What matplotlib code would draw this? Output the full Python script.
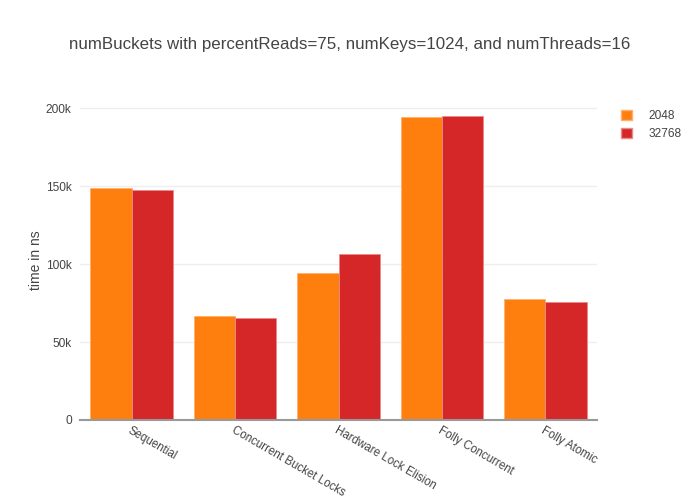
import matplotlib
matplotlib.use("Agg")
import matplotlib.pyplot as plt
import numpy as np
from matplotlib.patches import Patch

categories = ["Sequential", "Concurrent Bucket Locks", "Hardware Lock Elision",
              "Folly Concurrent", "Folly Atomic"]
series_names = ["2048", "32768"]
vals_2048 = [148700, 66500, 94100, 194200, 77600]
vals_32768 = [147600, 65200, 106300, 195300, 75700]
colors = ["#ff7f0e", "#d62728"]
yticks = [0, 50000, 100000, 150000, 200000]
yticklabels = ["0", "50k", "100k", "150k", "200k"]

plt.rcParams['font.family'] = ['Liberation Sans', 'DejaVu Sans']

fig = plt.figure(figsize=(7, 5), dpi=100)
ax = fig.add_axes([80/700, 80/500, 517/700, 320/500])

x = np.arange(len(categories))
w = 0.4
ax.bar(x - w/2, vals_2048, width=w, color=colors[0], edgecolor="#ffb070", linewidth=0.6, zorder=3)
ax.bar(x + w/2, vals_32768, width=w, color=colors[1], edgecolor="#ea8a8a", linewidth=0.6, zorder=3)

ax.set_xlim(-0.5, len(categories) - 0.5)
ax.set_ylim(0, 205300)
ax.set_yticks(yticks)
ax.set_yticklabels(yticklabels)
ax.yaxis.grid(True, color="#eeeeee", linewidth=1, zorder=0)
ax.set_axisbelow(True)
for s in ["top", "right", "left"]:
    ax.spines[s].set_visible(False)
ax.spines["bottom"].set_color("#999999")
ax.spines["bottom"].set_linewidth(1.5)
ax.spines["bottom"].set_zorder(4)
ax.tick_params(axis="y", length=0, pad=6, labelsize=8.6, labelcolor="#444444")
ax.tick_params(axis="x", length=0, pad=3, labelsize=8.3, labelcolor="#444444")
ax.set_xticks(x)
ax.set_xticklabels(categories, rotation=-30, ha="left", va="top", rotation_mode="anchor")

ax.set_ylabel("time in ns", fontsize=10, color="#444444", labelpad=2)

fig.text(350/700, 1 - 45/500, "numBuckets with percentReads=75, numKeys=1024, and numThreads=16",
         ha="center", va="center", fontsize=12.2, color="#444444")

handles = [Patch(facecolor=colors[0], edgecolor="#ffb070"),
           Patch(facecolor=colors[1], edgecolor="#ea8a8a")]
fig.legend(handles, series_names, loc="upper left", bbox_to_anchor=(610/700, 1 - 99/500),
           frameon=False, fontsize=8.6, handlelength=0.9, handleheight=0.9,
           handletextpad=1.4, labelspacing=0.55, labelcolor="#444444")

fig.savefig("out.png", dpi=100)
